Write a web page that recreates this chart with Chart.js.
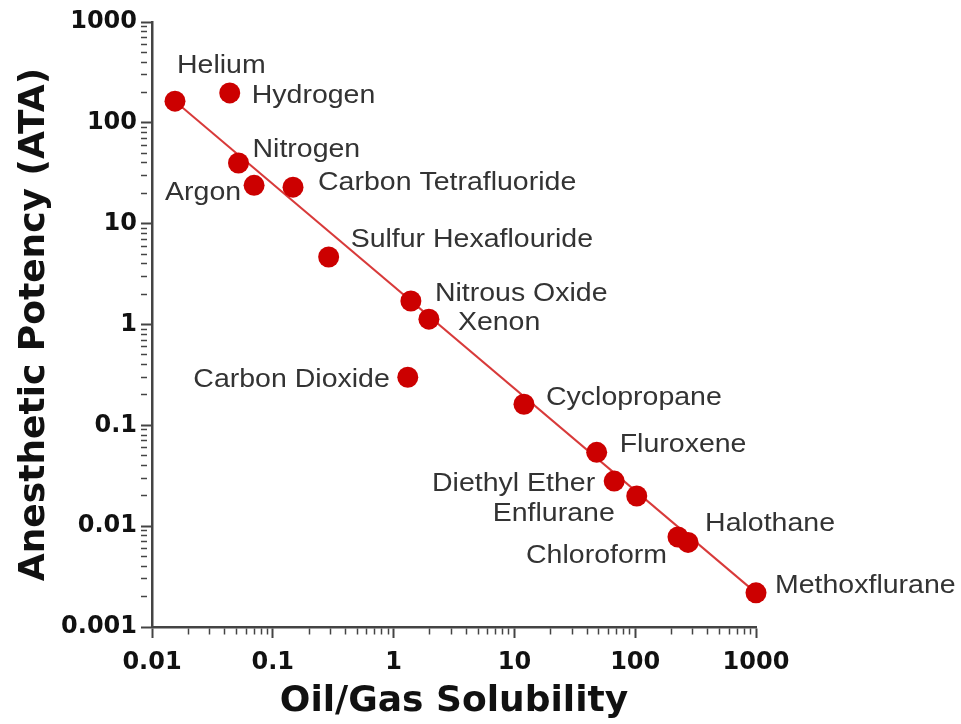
<!DOCTYPE html>
<html><head><meta charset="utf-8">
<script src="https://cdn.jsdelivr.net/npm/chart.js@4.4.1/dist/chart.umd.min.js"></script>
<style>html,body{margin:0;padding:0;background:#fff}#wrap{width:961px;height:724px;position:relative}</style>
</head><body><div id="wrap"><canvas id="c" width="961" height="724"></canvas></div>
<script>
// ---- data ----
const gases = ['Helium','Hydrogen','Nitrogen','Argon','Carbon Tetrafluoride','Sulfur Hexaflouride','Nitrous Oxide','Xenon','Carbon Dioxide','Cyclopropane','Fluroxene','Diethyl Ether','Enflurane','Chloroform','Halothane','Methoxflurane'];
const solubility = [0.0155, 0.044, 0.052, 0.07, 0.147, 0.29, 1.39, 1.96, 1.31, 12, 48, 67, 103, 226, 274, 1000];
const potency    = [164, 198, 40, 24, 23, 4.67, 1.71, 1.13, 0.30, 0.162, 0.054, 0.028, 0.0199, 0.0078, 0.0069, 0.00218];
const fitX = [0.0155, 1000];
const fitY = [164, 0.00218];
const xMajorTicks = [0.01, 0.1, 1, 10, 100, 1000];
const xTickLabels = ['0.01','0.1','1','10','100','1000'];
const yMajorTicks = [0.001, 0.01, 0.1, 1, 10, 100, 1000];
const yTickLabels = ['0.001','0.01','0.1','1','10','100','1000'];

// ---- label placement (styling) ----
const labelPlacement = [
  [2,-35,'left'],[22,3,'left'],[14,-13,'left'],[-13,8,'right'],[25,-4,'left'],[22,-17,'left'],
  [24,-7,'left'],[29,4,'left'],[-18,3,'right'],[22,-6,'left'],[23,-7,'left'],[-19,3,'right'],
  [-22,18,'right'],[-11,19,'right'],[17,-18,'left'],[19,-7,'left']
];

function buildTicks(majors){
  const out = [];
  majors.forEach((m,i)=>{
    out.push({value:m, major:true});
    if (i < majors.length-1) for (let k=2;k<=9;k++) out.push({value:m*k, major:false});
  });
  return out;
}
function labelFor(v, majors, labels){
  for (let i=0;i<majors.length;i++) if (Math.abs(Math.log10(v)-Math.log10(majors[i]))<1e-6) return labels[i];
  return '';
}

const pointLabels = {
  id:'pointLabels',
  afterDatasetsDraw(chart){
    const ctx = chart.ctx;
    const meta = chart.getDatasetMeta(1);
    ctx.save();
    ctx.font = '25px "Liberation Sans", Arial, sans-serif';
    ctx.fillStyle = '#333333';
    ctx.textBaseline = 'middle';
    meta.data.forEach((pt,i)=>{
      const p = labelPlacement[i];
      ctx.save();
      ctx.translate(pt.x + p[0], pt.y + p[1]);
      ctx.scale(1.14, 1);
      ctx.textAlign = p[2];
      ctx.fillText(gases[i], 0, 0);
      ctx.restore();
    });
    ctx.restore();
  }
};

const axisColor = '#444444';
const gridOpts = {
  drawOnChartArea:false, drawTicks:true, tickLength:11, tickColor:axisColor,
  tickWidth: c => (c.tick && c.tick.major) ? 2 : 1.5,
  tickBorderDash: c => (c.tick && c.tick.major) ? [] : [6, 40]
};
new Chart(document.getElementById('c'), {
  data: {
    datasets: [
      { type:'line', data: fitX.map((x,i)=>({x, y:fitY[i]})), borderColor:'#d83a3a', borderWidth:2, pointRadius:0, fill:false, tension:0, order:2 },
      { type:'scatter', data: solubility.map((x,i)=>({x, y:potency[i]})), backgroundColor:'#cc0000', borderWidth:0, pointRadius:10.5, pointHoverRadius:10.5, order:1 }
    ]
  },
  options: {
    responsive:false, animation:false,
    layout:{ padding:{ left:0, right:205, top:22, bottom:0 } },
    plugins:{ legend:{display:false}, tooltip:{enabled:false} },
    clip:false,
    scales:{
      x:{
        type:'logarithmic', min:0.01, max:1000, position:'bottom',
        afterBuildTicks: s => { s.ticks = buildTicks(xMajorTicks); },
        afterFit: s => { s.height = 97; },
        ticks:{ autoSkip:false, maxRotation:0, minRotation:0, padding:10, color:'#111',
          font:{ family:'"DejaVu Sans"', weight:'bold', size:24 },
          callback: v => labelFor(v, xMajorTicks, xTickLabels) },
        grid: gridOpts,
        border:{ display:true, color:axisColor, width:2.5 },
        title:{ display:true, text:'Oil/Gas Solubility', color:'#111', padding:{top:0,bottom:1},
          font:{ family:'"DejaVu Sans"', weight:'bold', size:36 } }
      },
      y:{
        type:'logarithmic', min:0.001, max:1000, position:'left',
        afterBuildTicks: s => { s.ticks = buildTicks(yMajorTicks); },
        afterFit: s => { s.width = 152; },
        ticks:{ autoSkip:false, padding:4, color:'#111',
          font:{ family:'"DejaVu Sans"', weight:'bold', size:24 },
          callback: v => labelFor(v, yMajorTicks, yTickLabels) },
        grid: gridOpts,
        border:{ display:true, color:axisColor, width:2.5 },
        title:{ display:true, text:'Anesthetic Potency (ATA)', color:'#111', padding:{top:13,bottom:0},
          font:{ family:'"DejaVu Sans"', weight:'bold', size:36 } }
      }
    }
  },
  plugins:[pointLabels]
});
</script></body></html>
